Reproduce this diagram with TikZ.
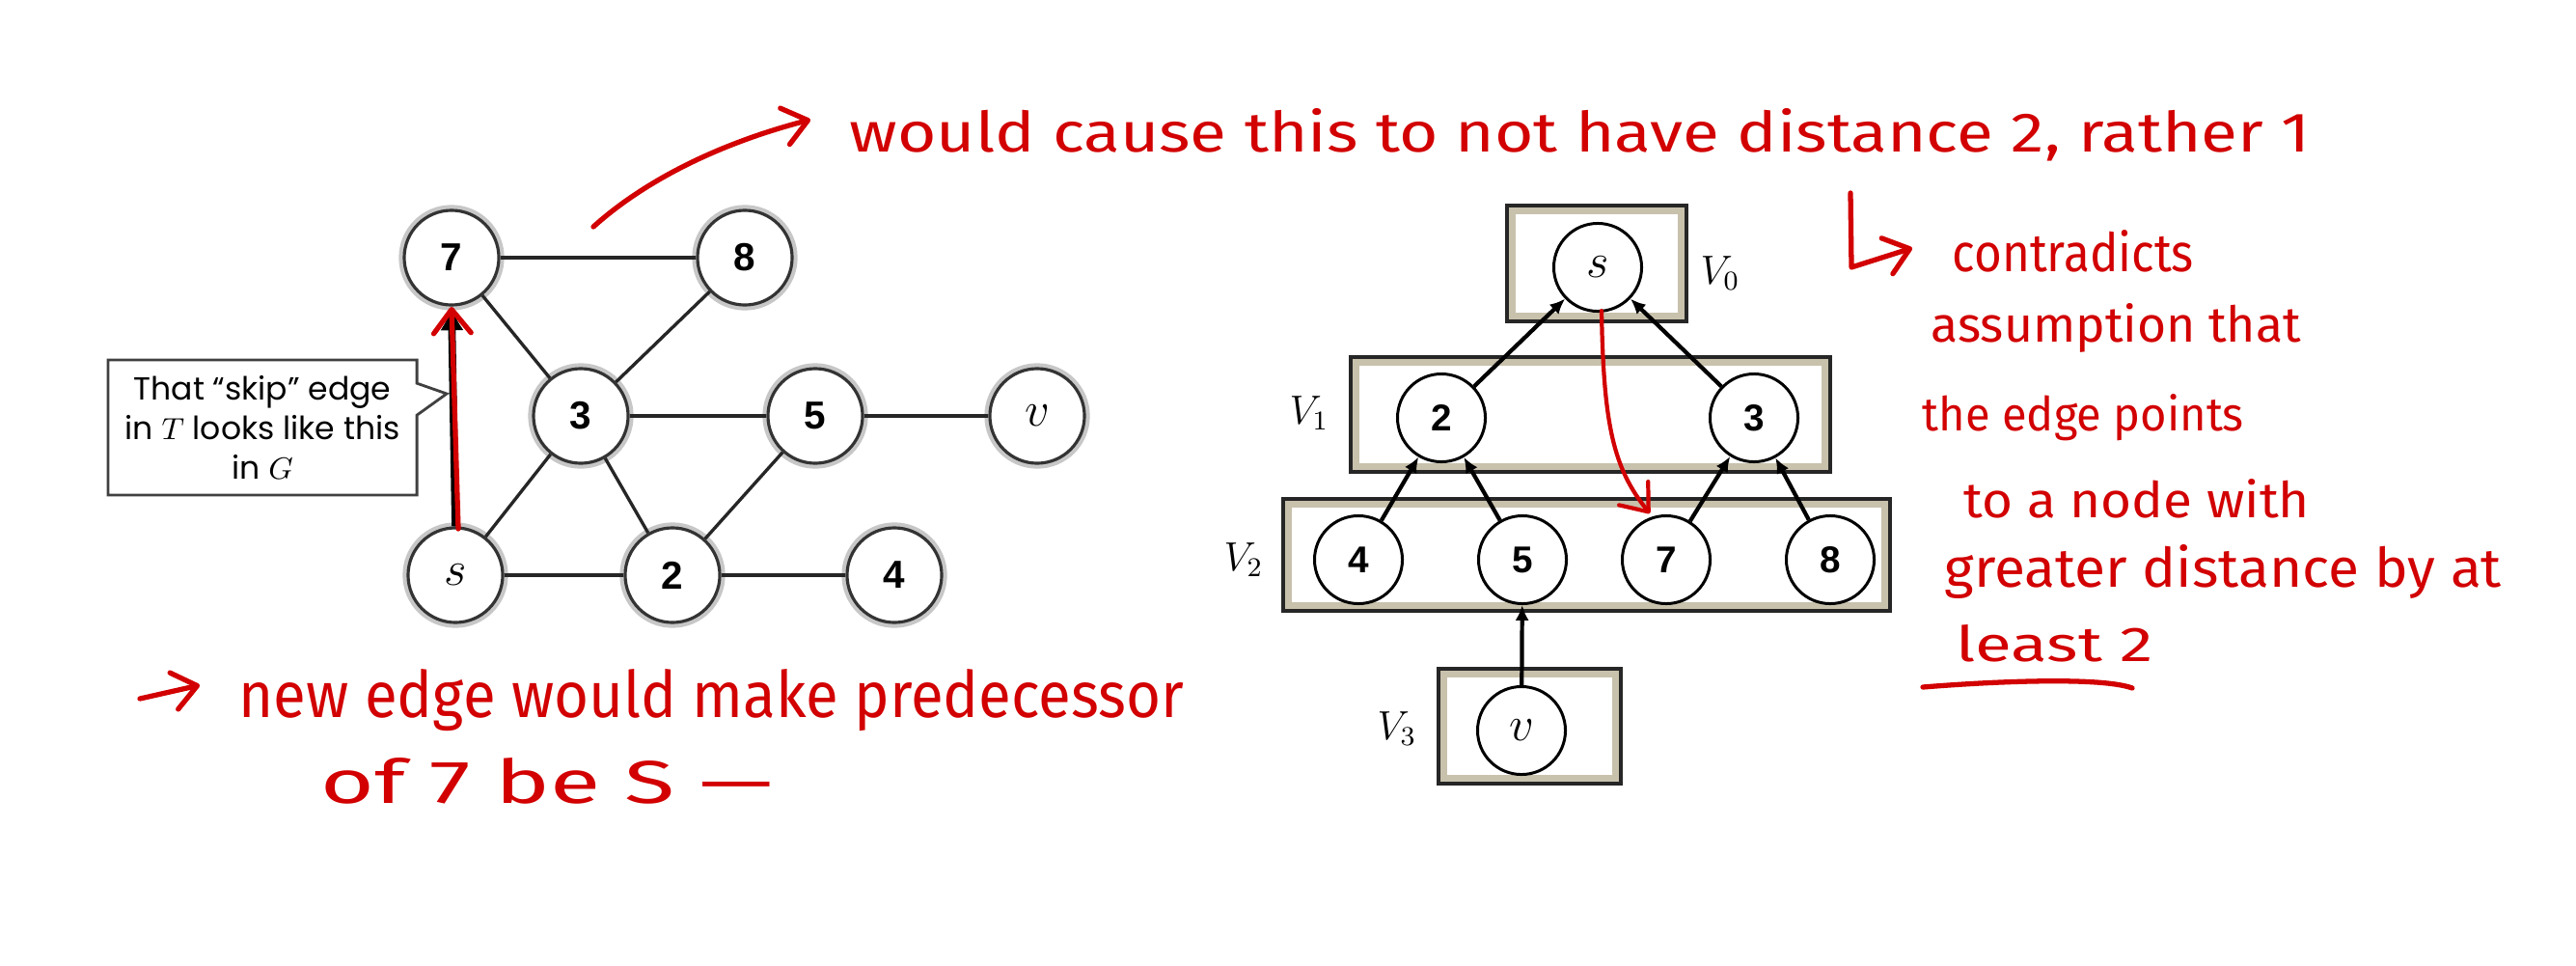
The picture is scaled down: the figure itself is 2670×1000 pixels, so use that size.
\documentclass[tikz,border=0pt]{standalone}
\usepackage{fontspec}
\usepackage{graphicx}
\usetikzlibrary{arrows.meta,shapes.callouts}
\newfontfamily\gothic{Poppins}
\newfontfamily\lblfont{Liberation Sans}
\newfontfamily\handfont{Fira Sans}
\definecolor{pen}{RGB}{210,0,0}
\definecolor{boxband}{RGB}{200,193,172}
\newcommand{\hw}[3]{\resizebox{#1cm}{#2cm}{\handfont #3}}
\begin{document}
\begin{tikzpicture}[x=0.01cm,y=-0.01cm,
  gnode/.style={circle, fill=white, draw=black!80, line width=0.9pt, minimum size=0.98cm, inner sep=0pt,
    preaction={draw=black!22, line width=3.2pt},
    font=\lblfont\bfseries\fontsize{11.5}{13}\selectfont},
  gmath/.style={gnode, font=\fontsize{14}{16}\selectfont},
  gedge/.style={draw=black!85, line width=0.95pt},
  tnode/.style={circle, fill=white, draw=black, line width=0.85pt, minimum size=0.91cm, inner sep=0pt,
    font=\lblfont\bfseries\fontsize{11}{12}\selectfont},
  tmath/.style={tnode, font=\fontsize{14}{16}\selectfont},
  tarrow/.style={draw=black, line width=1.2pt, -{Latex[length=4.5pt,width=4pt]}},
  lvlbox/.style={draw=black!85, line width=1.1pt, inner sep=0pt,
    path picture={\draw[boxband, line width=5pt] (path picture bounding box.south west) rectangle (path picture bounding box.north east);}},
  lvllabel/.style={font=\fontsize{12}{14}\selectfont, inner sep=0pt},
  redpen/.style={draw=pen, line width=1.5pt, line cap=round, line join=round},
  redbarb/.style={-{Straight Barb[length=7pt,width=11pt,line cap=round,line join=round]}},
  handtxt/.style={anchor=base west, inner sep=0pt, text=pen}
]
\fill[white] (0,0) rectangle (2670,1000);
\useasboundingbox (0,0) rectangle (2670,1000);

% ---------- left graph G ----------
\node[gnode] (g7) at (468,267) {7};
\node[gnode] (g8) at (772,267) {8};
\node[gnode] (g3) at (602,431) {3};
\node[gnode] (g5) at (845,431) {5};
\node[gmath] (gv) at (1075,431) {$v$};
\node[gmath] (gs) at (472,596) {$s$};
\node[gnode] (g2) at (697,596) {2};
\node[gnode] (g4) at (927,596) {4};

\draw[gedge] (g7) -- (g8);
\draw[gedge] (g7) -- (g3);
\draw[gedge] (g8) -- (g3);
\draw[gedge] (g3) -- (g5);
\draw[gedge] (g5) -- (gv);
\draw[gedge] (g3) -- (gs);
\draw[gedge] (g3) -- (g2);
\draw[gedge] (g5) -- (g2);
\draw[gedge] (gs) -- (g2);
\draw[gedge] (g2) -- (g4);
\draw[draw=black, line width=2.2pt, -{Latex[length=7pt,width=7pt]}] (gs.north) -- (g7.south);

% red overlay on the skip edge
\coordinate (redS) at (475,548);
\coordinate (redT) at (468,318);
\draw[redpen, redbarb] (redS) -- (redT);

% callout
\coordinate (tipT) at (463,408);
\node[rectangle callout, draw=black!75, line width=0.8pt, fill=white,
      minimum width=3.2cm, minimum height=1.4cm, inner sep=0pt,
      callout absolute pointer=(tipT), callout pointer width=0.33cm,
      align=center, font=\gothic\fontsize{9.4}{11.6}\selectfont] (note) at (272,443)
  {That \textquotedblleft skip\textquotedblright\ edge\\ in $T$ looks like this\\ in $G$};

% ---------- right BFS tree ----------
\node[lvlbox, minimum width=1.86cm, minimum height=1.2cm] (B0) at (1655,273) {};
\node[lvlbox, minimum width=4.97cm, minimum height=1.19cm] (B1) at (1648.5,429.5) {};
\node[lvlbox, minimum width=6.29cm, minimum height=1.16cm] (B2) at (1644.5,575) {};
\node[lvlbox, minimum width=1.89cm, minimum height=1.19cm] (B3) at (1585.5,752.5) {};

\node[lvllabel] (L0) at (1783,283) {$V_0$};
\node[lvllabel] (L1) at (1357,428) {$V_1$};
\node[lvllabel] (L2) at (1289,580) {$V_2$};
\node[lvllabel] (L3) at (1448,755) {$V_3$};

\node[tmath] (ts) at (1656,277) {$s$};
\node[tnode] (t2) at (1494,433) {2};
\node[tnode] (t3) at (1818,433) {3};
\node[tnode] (t4) at (1408,580) {4};
\node[tnode] (t5) at (1578,580) {5};
\node[tnode] (t7) at (1727,580) {7};
\node[tnode] (t8) at (1897,580) {8};
\node[tmath] (tv) at (1577,757) {$v$};

\draw[tarrow] (t2) -- (ts);
\draw[tarrow] (t3) -- (ts);
\draw[tarrow] (t4) -- (t2);
\draw[tarrow] (t5) -- (t2);
\draw[tarrow] (t7) -- (t3);
\draw[tarrow] (t8) -- (t3);
\draw[tarrow] (tv) -- (t5);

% red arrow s -> 7 in the tree
\coordinate (rtS) at (1660,322);
\coordinate (rtE) at (1710,532);
\draw[redpen, line width=1.2pt, redbarb] (rtS) .. controls (1662,440) and (1672,485) .. (rtE);

% ---------- red handwritten notes ----------
\coordinate (topA) at (615,235);
\coordinate (topB) at (840,124);
\draw[redpen, redbarb] (topA) .. controls (665,190) and (740,150) .. (topB);
\node[handtxt] (top) at (880,157) {\hw{15.13}{0.45}{would cause this to not have distance 2, rather 1}};

\coordinate (elA) at (1918,200);
\coordinate (elB) at (1919,277);
\coordinate (elC) at (1982,257);
\draw[redpen, redbarb] (elA) -- (elB) -- (elC);
\node[handtxt] (r1) at (2023,281) {\hw{2.50}{0.43}{contradicts}};
\node[handtxt] (r2) at (2001,354) {\hw{3.83}{0.40}{assumption that}};
\node[handtxt] (r3) at (1992,446) {\hw{3.33}{0.38}{the edge points}};
\node[handtxt] (r4) at (2035,536) {\hw{3.58}{0.40}{to a node with}};
\node[handtxt] (r5) at (2015,608) {\hw{5.77}{0.44}{greater distance by at}};
\node[handtxt] (r6) at (2027,685) {\hw{2.04}{0.38}{least 2}};
\coordinate (ulA) at (1993,712);
\coordinate (ulB) at (2210,713);
\draw[redpen] (ulA) .. controls (2080,705) and (2180,702) .. (ulB);

\coordinate (blA) at (145,724);
\coordinate (blB) at (207,710);
\draw[redpen, redbarb] (blA) -- (blB);
\node[handtxt] (b1) at (247,743) {\hw{9.79}{0.50}{new edge would make predecessor}};
\node[handtxt] (b2) at (332,832) {\hw{4.68}{0.47}{of 7 be S —}};
\end{tikzpicture}
\end{document}
